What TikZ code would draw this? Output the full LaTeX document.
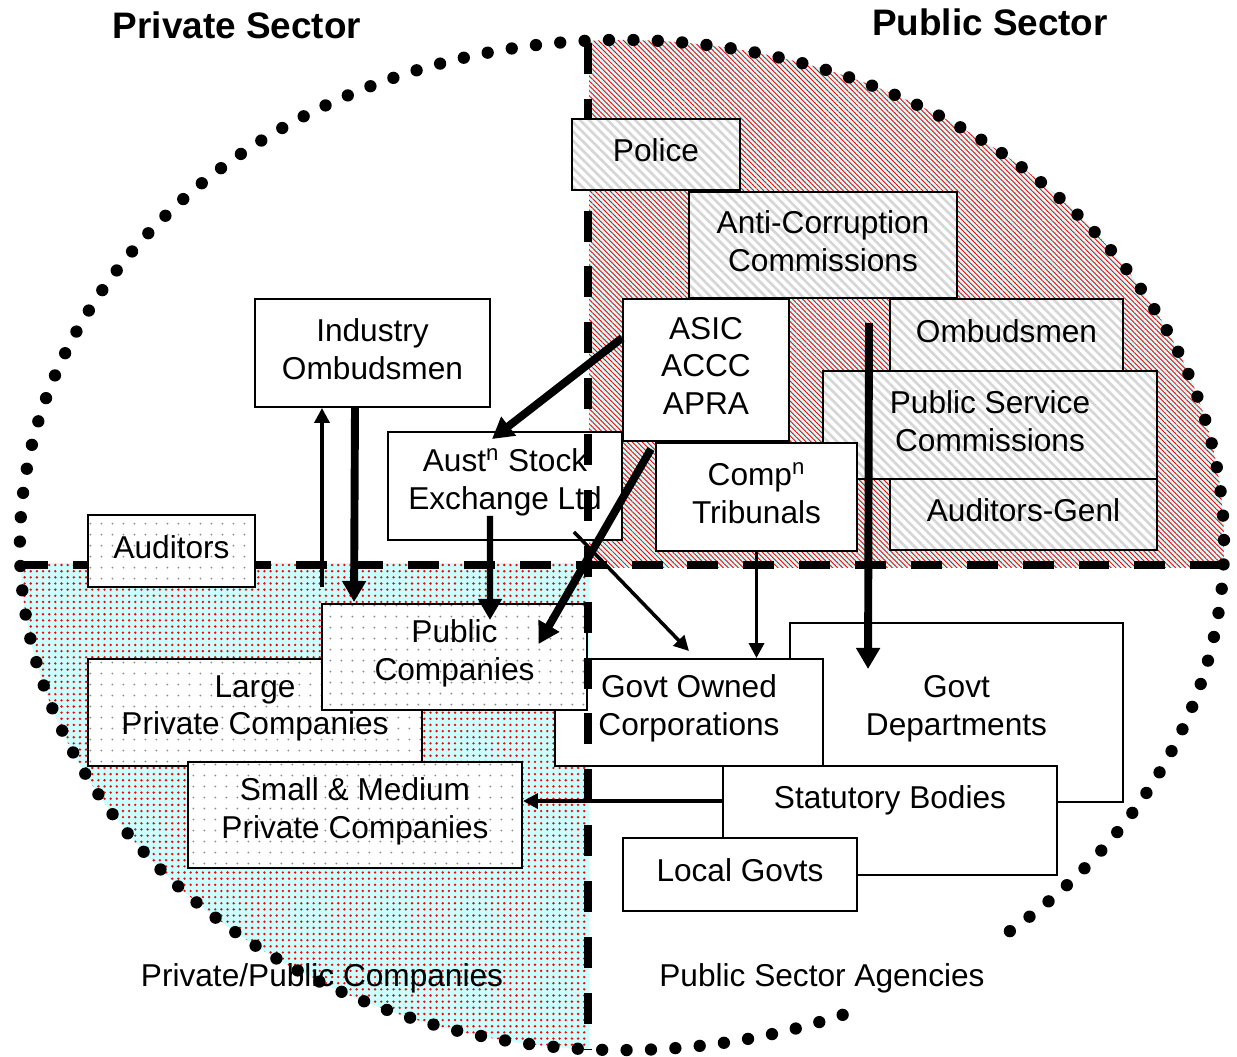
\documentclass[tikz,border=0pt]{standalone}
\usepackage{fontspec}
\setmainfont{Liberation Sans}
\usetikzlibrary{arrows.meta,patterns.meta,calc}
\definecolor{lcyan}{RGB}{204,255,255}
\definecolor{stripegray}{RGB}{214,214,214}
\definecolor{dotgray}{RGB}{140,140,140}
\newcommand\fsbody{\fontsize{18}{21.5}\selectfont}
\newcommand\fstitle{\fontsize{21}{25}\selectfont\bfseries}
\begin{document}
\begin{tikzpicture}[x=0.02cm,y=-0.02cm,
  sz/.style 2 args={minimum width=#1*0.02cm, minimum height=#2*0.02cm},
  txt/.style={inner sep=0pt, align=center, font=\fsbody},
  tx/.style={label={[txt,yshift=2.3pt]center:{#1}}},
  box/.style={draw, line width=1.1pt, inner sep=0pt},
  wbox/.style={box, fill=white},
  gbox/.style={box, preaction={fill=white}, pattern={Lines[angle=-45,distance=3.7pt,line width=1.5pt]}, pattern color=stripegray},
  dbox/.style={box, preaction={fill=white}, pattern={Dots[distance=6.5pt,radius=0.6pt]}, pattern color=dotgray},
  ttl/.style={inner sep=0pt, font=\fstitle},
  dotline/.style={line width=7pt, line cap=round, dash pattern=on 0pt off 13.9pt},
  dashline/.style={line width=4.5pt, dash pattern=on 17.6pt off 14.2pt},
  thickar/.style={line width=4.5pt, -{Triangle[length=12pt,width=13pt]}},
  medar/.style={line width=3.6pt, -{Triangle[length=12pt,width=13pt]}},
  thinar/.style={line width=2pt, -{Triangle[length=8.5pt,width=8.5pt]}},
]
\useasboundingbox (0,0) rectangle (1237,1057);

% quadrant fills
\begin{scope}
  \clip (622,545) ellipse [x radius=602, y radius=505];
  \fill[lcyan] (589,0) rectangle (1237,567);
  \fill[pattern={Lines[angle=-45,distance=2pt,line width=0.5pt]}, pattern color=red] (589,0) rectangle (1237,567);
  \fill[lcyan] (0,563) rectangle (589,1057);
  \fill[pattern={Dots[distance=3.5pt,radius=0.75pt]}, pattern color=red] (0,563) rectangle (589,1057);
\end{scope}

% labels
\node[ttl] (tpriv) at (237,25) {Private Sector};
\node[ttl] (tpub) at (990,22) {Public Sector};
\node[txt] (lpriv) at (322,978) {Private/Public Companies};
\node[txt] (lpub) at (822,978) {Public Sector Agencies};

% dotted ellipse (with a gap at lower right)
\draw[dotline] (622,545) ++(68.5:602 and 505) arc[start angle=68.5, end angle=411.4, x radius=602, y radius=505];

% public sector agencies
\node[wbox, sz={333}{179}, tx={Govt\\Departments}] (gdept) at (956.5,712.5) {};
\node[wbox, sz={268}{107}, tx={Govt Owned\\Corporations}] (goc) at (689,712.5) {};
\node[wbox, sz={334}{109}] (stat) at (890,820.5) {};
\node[txt] (stattxt) at (890,800) {Statutory Bodies};
\node[wbox, sz={234}{73}, tx={Local Govts}] (lg) at (740,874.5) {};

% companies
\node[dbox, sz={334}{107}, tx={Large\\Private Companies}] (lpc) at (255,712.5) {};
\node[dbox, sz={265}{106}, tx={Public\\Companies}] (pubco) at (454.5,657) {};
\node[dbox, sz={334}{106}, tx={Small \& Medium\\Private Companies}] (sm) at (355,815) {};

% regulators
\node[wbox, sz={234}{108}, tx={Aust\textsuperscript{n} Stock\\Exchange Ltd}] (asx) at (505,486) {};
\node[wbox, sz={166}{142}, tx={ASIC\\ACCC\\APRA}] (asic) at (706,370) {};
\node[gbox, sz={268}{106}, tx={Anti-Corruption\\Commissions}] (ac) at (823,245) {};
\node[gbox, sz={233}{72}, tx={Ombudsmen}] (omb) at (1006.5,335) {};
\node[gbox, sz={334}{108}, tx={Public Service\\Commissions}] (psc) at (990,425) {};
\node[gbox, sz={267}{71}, tx={Auditors-Genl}] (ag) at (1023.5,514.5) {};
\node[wbox, sz={201}{108}, tx={Comp\textsuperscript{n}\\Tribunals}] (comp) at (756.5,497) {};
\node[wbox, sz={235}{108}, tx={Industry\\Ombudsmen}] (indom) at (372.5,353) {};

% sector dividers
\draw[dashline] (17,565) -- (1225,565);
\draw[dashline] (588,43) -- (588,1050);

% boxes lying over the dividers
\node[gbox, sz={168}{71}, tx={Police}] (police) at (656,154.5) {};
\node[dbox, sz={167}{72}, tx={Auditors}] (aud) at (171.5,551) {};

% connectors
\coordinate (upstart) at (322,587);
\coordinate (bigstart) at (869,323);
\draw[thickar] ($(asic.north west)+(0,40)$) -- ($(asx.north)+(-13,8)$);
\draw[thickar] ($(asic.south)+(-55,7)$) -- ($(pubco.north)+(84,41)$);
\draw[thickar] ($(indom.south)+(-17.5,0)$) -- ($(pubco.north west)+(33,-1)$);
\draw[thinar] (upstart) -- (upstart |- indom.south);
\draw[medar] ($(asx.south)+(-15,-25)$) -- ($(pubco.north)+(35.5,17)$);
\draw[thinar] ($(asx.south east)+(-49,-9)$) -- ($(goc.north)+(0,-7)$);
\draw[thinar] (comp.south) -- (comp.south |- goc.north);
\draw[thickar] (bigstart) -- ($(gdept.north west)+(79,47)$);
\draw[thinar] ($(stat.north west)+(0,36)$) -- ($(sm.north east)+(0,40)$);
\end{tikzpicture}
\end{document}
